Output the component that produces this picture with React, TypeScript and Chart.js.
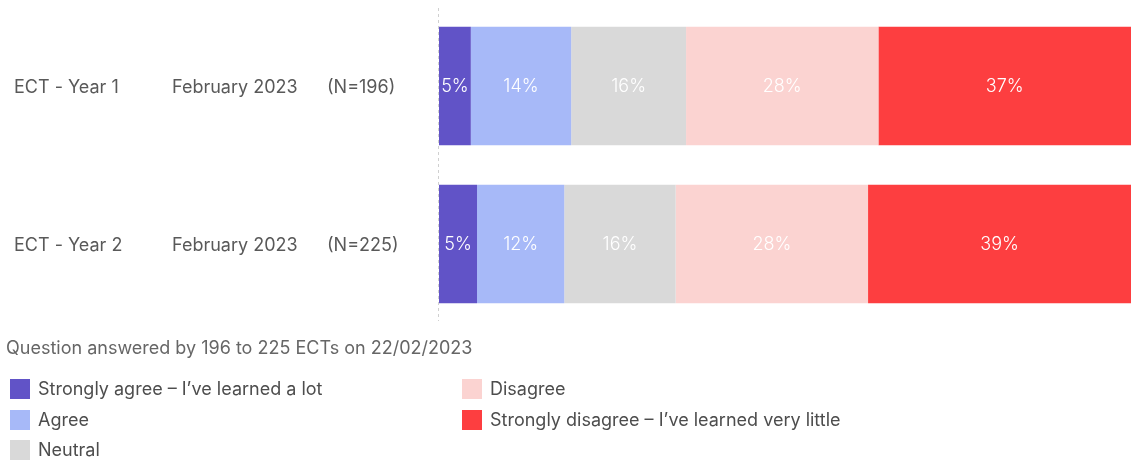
import React, { useEffect, useRef } from "react";
import { Chart, registerables } from "chart.js";

Chart.register(...registerables);

const categories = ["ECT - Year 1", "ECT - Year 2"];
const surveyDates = ["February 2023", "February 2023"];
const sampleSizes = ["(N=196)", "(N=225)"];

const seriesNames = [
  "Strongly agree – I’ve learned a lot",
  "Agree",
  "Neutral",
  "Disagree",
  "Strongly disagree – I’ve learned very little",
];
const stronglyAgree = [4.6, 5.5];
const agree = [14.5, 12.6];
const neutral = [16.6, 16.1];
const disagree = [27.8, 27.8];
const stronglyDisagree = [36.5, 38.0];

const shownStronglyAgree = [5, 5];
const shownAgree = [14, 12];
const shownNeutral = [16, 16];
const shownDisagree = [28, 28];
const shownStronglyDisagree = [37, 39];

const colors = ["#6153C7", "#A7B9F8", "#D9D9D9", "#FBD3D1", "#FD3E40"];
const note = "Question answered by 196 to 225 ECTs on 22/02/2023";

const FONT = "Inter, Lato, sans-serif";

export default function App() {
  const ref = useRef<HTMLCanvasElement | null>(null);

  useEffect(() => {
    if (!ref.current) return;
    const values = [stronglyAgree, agree, neutral, disagree, stronglyDisagree];
    const shown = [shownStronglyAgree, shownAgree, shownNeutral, shownDisagree, shownStronglyDisagree];

    const labelPlugin = {
      id: "labels",
      beforeDatasetsDraw(chart: any) {
        const ctx = chart.ctx;
        const a = chart.chartArea;
        ctx.save();
        ctx.strokeStyle = "#d0d0d0";
        ctx.lineWidth = 1;
        ctx.setLineDash([3, 3]);
        ctx.beginPath();
        ctx.moveTo(a.left - 0.5, 8);
        ctx.lineTo(a.left - 0.5, 321);
        ctx.stroke();
        ctx.restore();
      },
      afterDatasetsDraw(chart: any) {
        const ctx = chart.ctx;
        ctx.save();
        ctx.font = `300 18px ${FONT}`;
        ctx.fillStyle = "#ffffff";
        ctx.textAlign = "center";
        ctx.textBaseline = "middle";
        chart.data.datasets.forEach((ds: any, di: number) => {
          const meta = chart.getDatasetMeta(di);
          meta.data.forEach((el: any, i: number) => {
            const cx = (el.x + el.base) / 2;
            ctx.fillText(shown[di][i] + "%", cx, el.y + 1);
          });
        });
        const y = chart.scales.y;
        ctx.font = `18px ${FONT}`;
        ctx.fillStyle = "#595959";
        ctx.textAlign = "left";
        categories.forEach((c, i) => {
          const py = y.getPixelForValue(i) + 2;
          ctx.fillText(c, 14, py);
          ctx.fillText(surveyDates[i], 172, py);
          ctx.fillText(sampleSizes[i], 327, py);
        });
        ctx.restore();
      },
    };

    const chart = new Chart(ref.current, {
      type: "bar",
      data: {
        labels: categories,
        datasets: seriesNames.map((n, i) => ({
          label: n,
          data: values[i],
          backgroundColor: colors[i],
          borderWidth: 0,
          categoryPercentage: 1,
          barPercentage: 0.75,
        })),
      },
      options: {
        indexAxis: "y",
        animation: false,
        responsive: false,
        maintainAspectRatio: false,
        layout: { padding: { top: 7, bottom: 138, left: 0, right: 0 } },
        plugins: { legend: { display: false }, tooltip: { enabled: false } },
        scales: {
          x: { stacked: true, min: 0, max: 100, display: false },
          y: {
            stacked: true,
            ticks: { display: false },
            grid: { display: false, drawTicks: false },
            border: { display: false },
            afterFit: (s: any) => {
              s.width = 439;
            },
          },
        },
      },
      plugins: [labelPlugin],
    });
    return () => chart.destroy();
  }, []);

  const legendItem = (i: number, left: number, top: number) => (
    <div key={i} style={{ position: "absolute", left, top, display: "flex", alignItems: "center" }}>
      <div style={{ width: 20, height: 20, background: colors[i], marginRight: 8 }} />
      <span style={{ fontSize: 18, color: "#4d4d4d", fontFamily: FONT, whiteSpace: "nowrap" }}>{seriesNames[i]}</span>
    </div>
  );

  return (
    <div style={{ position: "fixed", left: 0, top: 0, width: 1131, height: 461, background: "#fff" }}>
      <canvas ref={ref} width={1131} height={461} style={{ position: "absolute", left: 0, top: 0 }} />
      <div
        style={{
          position: "absolute",
          left: 6,
          top: 337,
          fontSize: 18,
          color: "#666",
          fontFamily: FONT,
          whiteSpace: "nowrap",
        }}
      >
        {note}
      </div>
      {legendItem(0, 10, 378)}
      {legendItem(1, 10, 409)}
      {legendItem(2, 10, 439)}
      {legendItem(3, 462, 378)}
      {legendItem(4, 462, 409)}
    </div>
  );
}
